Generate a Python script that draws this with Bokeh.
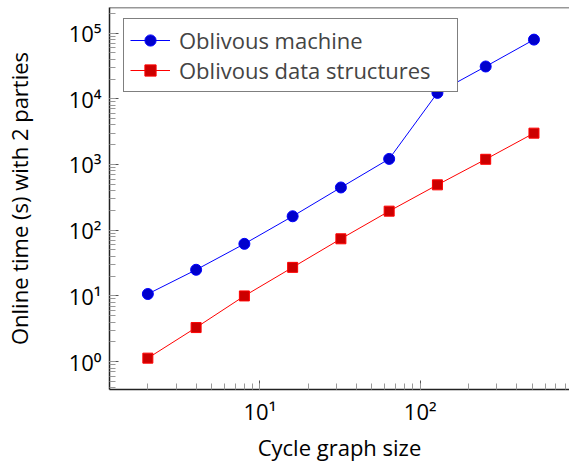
from bokeh.plotting import figure
from bokeh.models import (Range1d, Legend, LegendItem, LogTicker, Span)
from bokeh.embed import file_html
from bokeh.resources import INLINE

# data
cycle_sizes = [2, 4, 8, 16, 32, 64, 128, 256, 512]
oblivious_machine = [10.7, 25, 62, 163, 447, 1216, 12300, 31000, 79500]
oblivious_ds = [1.13, 3.3, 10, 27.2, 74, 195, 490, 1200, 3000]
x_tick_vals = [10, 100]
x_tick_labels = ["10¹", "10²"]
y_tick_vals = [1, 10, 100, 1000, 10000, 100000]
y_tick_labels = ["10⁰", "10¹", "10²", "10³", "10⁴", "10⁵"]

FONT = "Open Sans"
FS = "22px"

Y_TOP = 245000
p = figure(width=569, height=464, x_axis_type="log", y_axis_type="log",
           x_range=Range1d(1.153, 853), y_range=Range1d(0.3767, Y_TOP),
           output_backend="svg", toolbar_location=None,
           min_border_left=105, min_border_right=0, min_border_top=7,
           min_border_bottom=69)
p.outline_line_color = None
p.grid.visible = False
p.background_fill_color = "white"
p.border_fill_color = "white"

bx = p.below[0]
ly = p.left[0]

for ax, vals, labels, n in ((bx, x_tick_vals, x_tick_labels, 3),
                            (ly, y_tick_vals, y_tick_labels, 6)):
    ax.ticker = LogTicker(num_minor_ticks=10, desired_num_ticks=n)
    ax.major_label_overrides = {v: l for v, l in zip(vals, labels)}
    ax.major_tick_in = 9
    ax.major_tick_out = 0
    ax.minor_tick_in = 6
    ax.minor_tick_out = 0
    ax.major_tick_line_color = "#555555"
    ax.minor_tick_line_color = "#999999"
    ax.axis_line_color = "#222222"
    ax.axis_line_width = 1.5
    ax.major_label_text_font = FONT
    ax.major_label_text_font_size = FS
    ax.major_label_text_color = "black"
    ax.axis_label_text_font = FONT
    ax.axis_label_text_font_size = FS
    ax.axis_label_text_font_style = "normal"
    ax.axis_label_text_color = "black"

bx.axis_label = "Cycle graph size"
ly.axis_label = "Online time (s) with 2 parties"
bx.major_label_standoff = 6
bx.axis_label_standoff = 3
ly.major_label_standoff = 8
ly.axis_label_standoff = 32

# top frame line
p.add_layout(Span(location=Y_TOP, dimension="width", line_color="#333333",
                  line_width=1.5))

l1 = p.line(cycle_sizes, oblivious_machine, line_color="#0000ff", line_width=1)
m1 = p.scatter(cycle_sizes, oblivious_machine, marker="circle", size=11,
               fill_color="#0000cc", line_color="#0000ff", line_width=1)
l2 = p.line(cycle_sizes, oblivious_ds, line_color="#ff0000", line_width=1)
m2 = p.scatter(cycle_sizes, oblivious_ds, marker="square", size=10,
               fill_color="#cc0000", line_color="#ff0000", line_width=1)

legend = Legend(items=[LegendItem(label="Oblivous machine", renderers=[l1, m1]),
                       LegendItem(label="Oblivous data structures", renderers=[l2, m2])],
                location=(14, 297), padding=6, spacing=0, glyph_width=40,
                glyph_height=28, label_standoff=9, label_height=28,
                label_width=272,
                label_text_font=FONT, label_text_font_size=FS,
                border_line_color="black", border_line_width=1,
                background_fill_alpha=1, margin=0)
p.add_layout(legend, "center")

open("out.html", "w").write(file_html(p, INLINE))
